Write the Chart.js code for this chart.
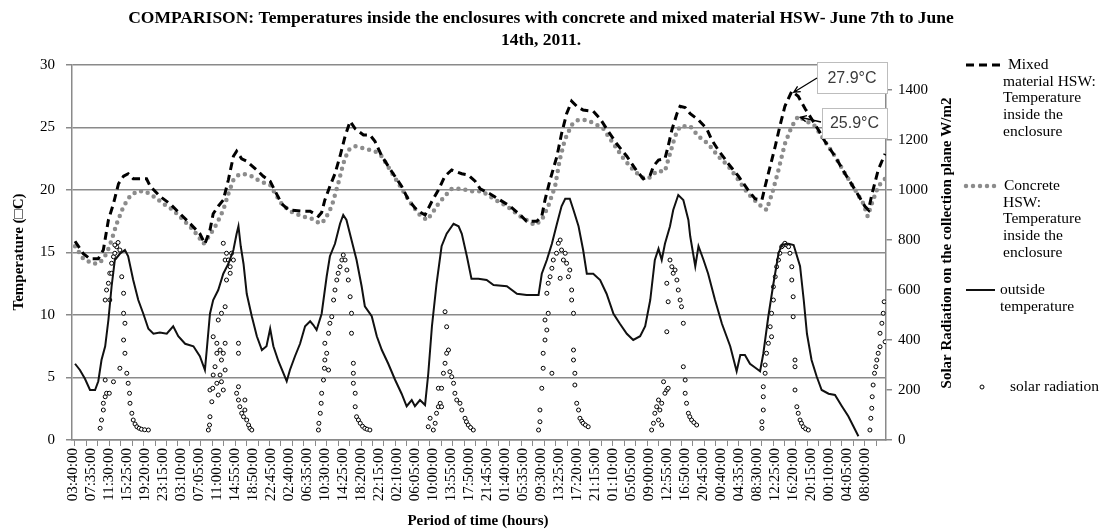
<!DOCTYPE html>
<html>
<head>
<meta charset="utf-8">
<script src="https://cdn.jsdelivr.net/npm/chart.js@4.4.1/dist/chart.umd.min.js"></script>
<style>
  html, body { margin: 0; padding: 0; background: #fff; }
  #wrap { width: 1103px; height: 530px; position: relative; }
</style>
</head>
<body>
<div id="wrap"><canvas id="chart" width="1103" height="530"></canvas></div>
<script>
// hours elapsed since June 7th 03:40
const mixedHSW = [
  [0.44,15.9],[2.25,14.9],[3.7,14.5],[5.5,14.5],[6.6,15.2],[7.7,17.6],[8.8,18.9],[9.9,20.5],[11.0,21.1],[12.0,21.3],
  [13.1,20.9],[16.0,20.9],[16.8,20.3],[18.9,19.5],[21.1,18.9],[23.3,18.1],[25.5,17.3],[27.6,16.5],[28.7,15.7],[29.8,16.8],
  [30.5,18.1],[31.6,18.7],[32.7,19.2],[33.8,20.8],[34.9,22.7],[35.6,23.1],[36.7,22.5],[37.8,22.3],[40.0,21.6],[41.4,21.1],
  [42.9,20.7],[44.0,19.9],[45.4,18.9],[46.9,18.4],[49.8,18.3],[51.6,18.3],[53.4,17.9],[54.1,18.2],[54.8,19.2],[55.9,20.3],
  [57.0,21.3],[58.1,22.7],[59.2,24.3],[60.3,25.5],[61.4,24.9],[63.2,24.4],[64.6,24.4],[65.7,23.9],[67.2,22.7],[69.3,21.5],
  [71.5,20.3],[73.0,19.2],[74.8,18.4],[76.6,18.0],[78.1,19.1],[79.5,20.0],[80.9,21.1],[82.4,21.6],[84.6,21.3],[86.0,21.2],
  [87.5,20.7],[88.6,20.1],[90.7,19.7],[92.9,19.2],[95.1,18.7],[97.3,18.0],[98.7,17.5],[100.9,17.5],[102.0,17.9],[102.7,19.2],
  [103.8,20.8],[105.3,22.7],[106.3,24.5],[107.4,26.1],[108.5,27.1],[109.6,26.7],[111.0,26.4],[113.2,26.3],[114.7,25.7],[116.1,24.9],
  [118.3,23.7],[120.5,22.7],[122.7,21.5],[124.1,20.9],[125.6,21.2],[126.3,21.9],[127.4,22.4],[128.8,22.5],[129.5,23.5],[130.3,24.8],
  [131.4,26.1],[132.1,26.7],[133.2,26.6],[134.3,26.1],[136.1,25.6],[137.9,24.9],[139.0,24.0],[140.4,23.2],[142.6,22.1],[144.8,21.1],
  [146.9,20.0],[148.4,19.3],[149.9,19.2],[150.6,20.3],[151.7,21.9],[152.8,23.5],[153.8,25.1],[154.9,26.7],[156.4,27.9],[157.8,27.5],
  [159.3,26.5],[160.7,25.7],[162.2,24.8],[163.6,23.9],[165.8,22.7],[168.0,21.3],[170.2,20.0],[172.3,18.7],[173.1,18.4],[173.8,19.6],
  [175.2,21.6],[176.7,22.9]
];

const concreteHSW = [
  [0.44,15.5],[2.25,14.5],[4.4,14.1],[5.9,14.2],[7.3,14.9],[8.4,16.0],[9.5,17.3],[11.0,18.7],[12.4,19.5],[13.9,19.9],
  [15.7,19.9],[17.5,19.5],[19.7,18.9],[21.8,18.4],[24.0,17.6],[26.2,16.8],[28.4,15.7],[29.8,16.4],[31.3,17.3],[32.7,18.4],
  [33.8,19.7],[34.9,20.8],[36.0,21.2],[37.1,21.3],[38.9,21.1],[40.7,20.7],[42.9,20.4],[44.0,19.7],[45.4,18.9],[47.2,18.3],
  [49.8,17.9],[51.9,17.7],[53.8,17.3],[54.8,17.6],[56.3,18.7],[57.7,20.5],[58.8,22.1],[59.9,23.2],[61.4,23.5],[63.5,23.3],
  [65.7,23.1],[67.2,22.7],[69.0,21.6],[71.2,20.3],[73.0,19.2],[75.2,18.1],[77.0,17.6],[78.1,18.1],[79.5,18.9],[80.9,19.5],
  [82.4,20.1],[84.6,20.1],[86.7,19.9],[89.0,19.9],[91.5,19.3],[94.4,18.7],[97.3,17.9],[100.5,17.2],[102.0,17.6],[103.4,18.7],
  [104.9,20.3],[105.9,22.4],[107.0,24.0],[108.5,25.2],[109.9,25.6],[111.7,25.6],[113.6,25.3],[115.4,24.9],[117.6,23.7],[119.8,22.5],
  [121.9,21.6],[123.8,21.0],[125.6,21.0],[127.0,21.5],[128.8,21.5],[129.9,22.9],[131.0,24.3],[132.1,25.1],[134.3,25.1],[136.1,24.3],
  [138.2,23.7],[140.4,22.7],[142.6,21.9],[144.8,20.8],[146.9,19.7],[149.1,18.9],[150.9,18.4],[152.1,19.7],[153.5,21.6],[154.9,23.7],
  [156.4,25.1],[157.8,25.9],[159.6,25.5],[161.5,25.1],[163.6,23.9],[165.8,22.7],[168.0,21.3],[170.2,20.0],[172.0,18.9],[172.9,17.9],
  [173.8,18.9],[175.2,20.3],[176.7,20.9]
];

const outsideTemp = [
  [0.44,6.1],[1.5,5.6],[2.6,4.9],[3.7,4.0],[4.8,4.0],[5.5,4.7],[6.2,6.4],[7.0,7.5],[7.7,9.6],[8.4,12.3],
  [9.1,14.4],[10.2,14.9],[11.3,15.2],[12.0,14.7],[13.1,12.8],[14.2,11.2],[15.3,10.1],[16.4,8.9],[17.5,8.5],[18.9,8.6],
  [20.4,8.5],[21.8,9.1],[22.9,8.3],[24.4,7.7],[26.2,7.5],[27.6,6.7],[28.7,5.6],[29.1,7.2],[29.8,10.1],[30.5,11.2],
  [31.6,12.0],[32.7,13.3],[33.8,14.1],[34.9,15.2],[35.6,16.5],[36.0,17.1],[36.5,15.5],[37.1,14.1],[37.8,11.7],[38.9,9.9],
  [40.0,8.3],[41.1,7.2],[42.1,7.5],[42.9,8.9],[43.6,7.5],[44.7,6.3],[46.5,4.7],[47.2,5.6],[48.3,6.7],[49.4,7.7],
  [50.5,9.1],[51.6,9.5],[52.3,9.2],[53.0,8.8],[54.1,10.1],[55.2,13.1],[55.9,14.7],[57.0,15.7],[58.1,17.3],[58.8,18.0],
  [59.5,17.6],[60.6,16.0],[61.7,14.4],[62.8,12.3],[63.5,10.7],[65.0,9.9],[66.1,8.3],[67.2,7.2],[68.6,6.1],[70.1,4.8],
  [71.5,3.7],[72.6,2.7],[73.7,3.2],[74.4,2.7],[75.5,3.2],[76.6,2.8],[77.3,5.3],[78.1,9.1],[79.1,12.5],[80.2,15.5],
  [81.3,16.5],[82.8,17.3],[83.9,17.1],[84.6,16.5],[85.7,14.7],[86.7,12.9],[88.2,12.9],[90.0,12.8],[91.5,12.4],[94.4,12.3],
  [96.6,11.7],[98.7,11.6],[101.3,11.6],[102.0,13.3],[103.1,14.4],[104.2,15.7],[105.3,17.3],[106.3,18.7],[107.1,19.3],[108.1,19.3],
  [108.9,18.4],[110.0,17.1],[111.0,15.2],[111.8,13.3],[113.2,13.3],[114.7,12.8],[116.1,11.7],[117.6,10.1],[119.0,9.3],[120.5,8.5],
  [121.9,8.0],[123.4,8.3],[124.5,9.1],[125.6,11.2],[126.6,14.4],[127.4,15.3],[128.1,14.4],[128.8,15.7],[129.9,17.1],[130.6,18.4],
  [131.7,19.6],[132.8,19.2],[133.9,17.6],[134.3,16.3],[135.4,13.9],[136.1,15.5],[137.2,14.4],[138.2,13.3],[139.7,11.2],[141.2,9.3],
  [143.0,7.5],[144.4,5.5],[145.2,6.8],[146.2,6.8],[147.3,6.1],[148.4,5.8],[149.5,5.5],[150.2,6.9],[151.3,9.9],[152.4,12.5],
  [153.5,14.9],[154.2,15.6],[155.7,15.7],[156.8,15.6],[158.2,13.9],[159.0,11.2],[159.7,8.5],[160.7,6.4],[161.8,5.1],[162.9,4.0],
  [164.4,3.7],[165.8,3.6],[167.3,2.7],[168.7,1.9],[169.8,1.1],[170.9,0.3]
];

// W/m2 on the right axis
const solarRadiation = [
  [5.9,47],[6.2,80],[6.6,120],[6.6,147],[7.0,173],[7.3,187],[7.9,187],[7.0,240],[8.8,233],[7.0,560],[7.3,600],[7.7,627],
  [8.0,667],[8.4,707],[8.8,733],[9.1,747],[9.5,773],[8.4,667],[8.0,560],[9.1,780],[9.8,790],[10.2,760],[10.2,287],[10.6,653],
  [11.0,587],[11.0,507],[11.3,467],[11.0,400],[11.3,347],[11.7,267],[12.0,227],[12.3,187],[12.4,147],[12.8,107],[13.1,80],
  [13.5,64],[13.9,53],[14.4,47],[14.9,43],[15.6,41],[16.4,40],
  [29.45,40],[29.7,60],[29.8,93],[30.2,153],[29.8,200],[30.4,207],[30.5,260],[31.3,227],[30.9,293],[31.6,180],[32.0,260],
  [32.3,233],[32.7,200],[33.1,280],[30.5,413],[31.3,387],[32.0,360],[32.3,320],[32.7,347],[33.1,387],[31.3,347],[31.6,480],
  [32.3,507],[33.1,533],[32.7,787],[33.1,720],[33.4,747],[33.8,720],[34.2,693],[34.5,747],[34.9,720],[34.2,667],[33.4,640],
  [36.0,387],[36.0,347],[36.0,213],[35.6,187],[36.0,160],[36.3,133],[36.7,107],[37.1,93],[37.4,160],[37.4,120],[37.8,80],
  [38.2,60],[38.5,47],[38.9,40],
  [53.4,40],[53.5,67],[53.8,107],[54.0,147],[54.1,187],[54.5,240],[54.7,287],[54.8,320],[55.2,347],[54.8,387],[55.6,427],
  [55.9,467],[56.3,493],[55.6,280],[56.7,560],[57.0,600],[57.4,640],[57.7,667],[58.1,693],[58.5,720],[58.8,740],[59.2,720],
  [59.6,680],[59.9,640],[60.3,573],[60.6,507],[60.6,427],[61.0,307],[61.0,267],[61.0,227],[61.4,187],[61.4,133],[61.7,93],
  [62.1,80],[62.5,67],[63.0,55],[63.5,47],[64.0,43],[64.6,40],
  [77.3,53],[77.7,87],[78.4,40],[78.8,67],[79.1,107],[79.5,133],[79.9,147],[80.2,133],[79.5,207],[80.2,207],[80.6,267],
  [80.95,307],[81.3,347],[81.7,360],[82.0,273],[82.4,253],[82.8,227],[80.95,513],[81.3,453],[83.1,187],[83.5,160],[84.2,147],
  [84.6,120],[85.3,87],[85.6,73],[86.0,60],[86.5,50],[87.1,40],
  [101.3,40],[101.6,73],[101.6,120],[102.0,207],[102.3,287],[102.3,347],[102.7,400],[103.1,440],[102.7,480],[103.4,507],
  [104.2,267],[103.1,587],[103.4,627],[103.8,653],[104.2,687],[104.5,720],[105.2,747],[105.6,787],[106.0,800],[106.3,760],
  [106.7,720],[107.1,747],[107.4,707],[107.8,653],[108.1,680],[106.0,647],[108.5,600],[108.5,560],[108.9,507],[108.9,360],
  [108.9,320],[109.2,267],[109.2,220],[109.6,147],[110.0,120],[110.3,87],[110.7,75],[111.0,67],[111.5,60],[112.1,53],
  [125.9,40],[126.3,67],[126.6,107],[127.0,133],[127.4,160],[127.7,120],[128.1,147],[128.5,233],[128.8,187],[129.2,200],
  [129.5,207],[127.4,80],[128.1,60],[129.2,433],[129.5,553],[129.2,627],[129.9,720],[130.3,693],[130.6,667],[131.0,680],
  [131.4,640],[131.7,600],[132.1,560],[132.4,533],[132.8,467],[132.8,293],[133.2,240],[133.2,187],[133.5,147],[133.9,107],
  [134.2,93],[134.6,80],[135.1,70],[135.7,60],
  [149.9,47],[149.9,73],[150.2,120],[150.2,173],[150.2,213],[150.6,267],[150.6,300],[150.9,347],[151.3,387],[152.0,413],
  [151.7,453],[152.0,507],[152.4,560],[152.4,613],[152.8,653],[153.1,693],[153.5,720],[153.8,747],[154.2,773],[154.6,780],
  [154.9,787],[155.3,780],[155.7,773],[156.0,747],[156.4,693],[156.4,640],[156.7,573],[156.7,493],[157.1,320],[157.1,293],
  [157.1,200],[157.5,133],[157.8,107],[158.2,80],[158.5,67],[158.9,53],[159.4,45],[160.0,40],
  [173.4,40],[173.6,87],[173.8,127],[173.9,173],[174.1,220],[174.4,267],[174.7,293],[174.9,320],[175.2,347],[175.6,373],
  [175.6,427],[176.0,467],[176.3,507],[176.5,553],[176.7,393]
];

const tickLabels = [
  '03:40:00','07:35:00','11:30:00','15:25:00','19:20:00','23:15:00','03:10:00','07:05:00','11:00:00','14:55:00',
  '18:50:00','22:45:00','02:40:00','06:35:00','10:30:00','14:25:00','18:20:00','22:15:00','02:10:00','06:05:00',
  '10:00:00','13:55:00','17:50:00','21:45:00','01:40:00','05:35:00','09:30:00','13:25:00','17:20:00','21:15:00',
  '01:10:00','05:05:00','09:00:00','12:55:00','16:50:00','20:45:00','00:40:00','04:35:00','08:30:00','12:25:00',
  '16:20:00','20:15:00','00:10:00','04:05:00','08:00:00'
];
const tempTicks = [0, 5, 10, 15, 20, 25, 30];
const solarTicks = [0, 200, 400, 600, 800, 1000, 1200, 1400];

const seriesNames = [
  ['Mixed', 'material HSW:', 'Temperature', 'inside the', 'enclosure'],
  ['Concrete', 'HSW:', 'Temperature', 'inside the', 'enclosure'],
  ['outside', 'temperature'],
  ['solar radiation']
];
const titleLines = [
  'COMPARISON: Temperatures inside the enclosures with concrete and mixed material HSW- June 7th to June',
  '14th, 2011.'
];
const peakLabels = ['27.9°C', '25.9°C'];

const LABEL_STEP = 235 / 60;   // one label every 47 five-minute readings
const GREY = '#8a8a8a';
const SERIF = '"Liberation Serif", "Times New Roman", serif';

const toXY = arr => arr.map(p => ({ x: p[0], y: p[1] }));

const overlay = {
  id: 'overlay',
  afterDraw(chart) {
    const ctx = chart.ctx;
    const sx = chart.scales.x, sy = chart.scales.y;
    ctx.save();
    ctx.fillStyle = '#000';
    ctx.textBaseline = 'middle';

    // chart title, fitted to the width it has in the original
    ctx.textAlign = 'center';
    ctx.font = 'bold 16px ' + SERIF;
    let w = ctx.measureText(titleLines[0]).width;
    const fs = Math.min(18, 16 * 828 / w);
    ctx.font = 'bold ' + fs.toFixed(1) + 'px ' + SERIF;
    ctx.fillText(titleLines[0], 541, 18);
    ctx.fillText(titleLines[1], 541, 40);

    // axis titles
    ctx.font = 'bold 15px ' + SERIF;
    ctx.fillText('Period of time (hours)', 478, 521);
    ctx.save();
    ctx.translate(19, 252);
    ctx.rotate(-Math.PI / 2);
    ctx.fillText('Temperature (\u25A1C)', 0, 0);
    ctx.restore();
    ctx.save();
    ctx.translate(947, 243);
    ctx.rotate(-Math.PI / 2);
    ctx.fillText('Solar Radiation on the collection plane W/m2', 0, 0);
    ctx.restore();

    // legend
    const ds = chart.data.datasets;
    const rows = [
      { y: 65, x0: 1008, tx: 1003 },
      { y: 186, x0: 1004, tx: 1003 },
      { y: 290, x0: 1000, tx: 1000 },
      { y: 387, x0: 1010, tx: 1010 }
    ];
    ctx.textAlign = 'left';
    ctx.font = '15.5px ' + SERIF;
    rows.forEach((r, i) => {
      const d = ds[i];
      if (i < 3) {
        ctx.save();
        ctx.strokeStyle = d.borderColor;
        ctx.lineWidth = d.borderWidth;
        ctx.lineCap = d.borderCapStyle || 'butt';
        ctx.setLineDash(d.borderDash || []);
        ctx.beginPath();
        ctx.moveTo(966, r.y);
        ctx.lineTo(r.x0 - 5, r.y);
        ctx.stroke();
        ctx.restore();
      } else {
        ctx.save();
        ctx.strokeStyle = d.pointBorderColor;
        ctx.fillStyle = d.pointBackgroundColor;
        ctx.lineWidth = 1;
        ctx.beginPath();
        ctx.arc(982, r.y, 2, 0, Math.PI * 2);
        ctx.fill();
        ctx.stroke();
        ctx.restore();
      }
      seriesNames[i].forEach((line, j) => {
        ctx.fillText(line, j === 0 ? r.x0 : r.tx, r.y + j * 16.7);
      });
    });

    // peak callouts
    const peaks = [
      { x: 156.4, y: 27.9, box: [817, 62, 70, 31], from: [817, 78] },
      { x: 157.8, y: 25.9, box: [822, 108, 65, 30], from: [821, 122] }
    ];
    peaks.forEach((p, i) => {
      const [bx, by, bw, bh] = p.box;
      ctx.fillStyle = '#fff';
      ctx.fillRect(bx, by, bw, bh);
      ctx.strokeStyle = '#bdbdbd';
      ctx.lineWidth = 1;
      ctx.strokeRect(bx + 0.5, by + 0.5, bw, bh);
      ctx.fillStyle = '#3a3a3a';
      ctx.textAlign = 'center';
      ctx.font = '16px "Liberation Sans", Arial, sans-serif';
      ctx.fillText(peakLabels[i], bx + bw / 2, by + bh / 2 + 1);
      const tx = sx.getPixelForValue(p.x) + 2, ty = sy.getPixelForValue(p.y) + 1;
      const ang = Math.atan2(p.from[1] - ty, p.from[0] - tx);
      ctx.strokeStyle = '#000';
      ctx.lineWidth = 1.3;
      ctx.beginPath();
      ctx.moveTo(p.from[0], p.from[1]);
      ctx.lineTo(tx, ty);
      ctx.moveTo(tx + 7 * Math.cos(ang + 0.45), ty + 7 * Math.sin(ang + 0.45));
      ctx.lineTo(tx, ty);
      ctx.lineTo(tx + 7 * Math.cos(ang - 0.45), ty + 7 * Math.sin(ang - 0.45));
      ctx.stroke();
    });
    ctx.restore();
  }
};

new Chart(document.getElementById('chart'), {
  type: 'line',
  data: {
    datasets: [
      {
        label: 'Mixed material HSW: Temperature inside the enclosure',
        data: toXY(mixedHSW),
        borderColor: '#000',
        borderWidth: 3,
        borderDash: [8, 5],
        pointRadius: 0,
        yAxisID: 'y'
      },
      {
        label: 'Concrete HSW: Temperature inside the enclosure',
        data: toXY(concreteHSW),
        borderColor: '#8c8c8c',
        borderWidth: 4.5,
        borderDash: [0, 7],
        borderCapStyle: 'round',
        pointRadius: 0,
        yAxisID: 'y'
      },
      {
        label: 'outside temperature',
        data: toXY(outsideTemp),
        borderColor: '#111',
        borderWidth: 2,
        pointRadius: 0,
        yAxisID: 'y'
      },
      {
        type: 'scatter',
        label: 'solar radiation',
        data: toXY(solarRadiation),
        showLine: false,
        pointRadius: 2,
        pointBorderWidth: 1,
        pointBorderColor: '#000',
        pointBackgroundColor: '#fff',
        yAxisID: 'y2'
      }
    ]
  },
  options: {
    responsive: false,
    animation: false,
    devicePixelRatio: 1,
    layout: { padding: { top: 65, left: 0, right: 0, bottom: 0 } },
    plugins: {
      legend: { display: false },
      title: { display: false },
      tooltip: { enabled: false }
    },
    scales: {
      x: {
        type: 'linear',
        min: -0.22,
        max: 176.9,
        afterBuildTicks(scale) {
          const ticks = tickLabels.map((l, k) => ({ value: k * LABEL_STEP, lbl: l, mark: false }));
          for (let t = 0.43; t <= scale.max; t += 2.49) ticks.push({ value: t, lbl: '', mark: true });
          ticks.sort((a, b) => a.value - b.value);
          scale.ticks = ticks;
        },
        afterFit(scale) { scale.height = 90; },
        grid: {
          drawOnChartArea: false,
          tickLength: 6,
          color: c => (c.tick && c.tick.mark ? GREY : 'rgba(0,0,0,0)'),
          tickColor: c => (c.tick && c.tick.mark ? GREY : 'rgba(0,0,0,0)')
        },
        border: { color: GREY, width: 1.5 },
        ticks: {
          autoSkip: false,
          minRotation: 90,
          maxRotation: 90,
          padding: 2,
          color: '#000',
          font: { family: SERIF, size: 15 },
          callback: (v, i, ticks) => ticks[i].lbl
        }
      },
      y: {
        position: 'left',
        min: 0,
        max: 30,
        afterBuildTicks(scale) { scale.ticks = tempTicks.map(v => ({ value: v })); },
        afterFit(scale) { scale.width = 72; },
        grid: { color: GREY, lineWidth: 1.5, tickLength: 6 },
        border: { color: GREY, width: 1.5 },
        ticks: { color: '#000', padding: 11, font: { family: SERIF, size: 15 }, callback: v => String(v) }
      },
      y2: {
        position: 'right',
        min: 0,
        max: 1500,
        afterBuildTicks(scale) { scale.ticks = solarTicks.map(v => ({ value: v })); },
        afterFit(scale) { scale.width = 1103 - 886; },
        grid: { drawOnChartArea: false, color: GREY, lineWidth: 1.5, tickLength: 6 },
        border: { color: GREY, width: 1.5 },
        ticks: { color: '#000', padding: 6, font: { family: SERIF, size: 15 }, callback: v => String(v) }
      }
    }
  },
  plugins: [overlay]
});
</script>
</body>
</html>
